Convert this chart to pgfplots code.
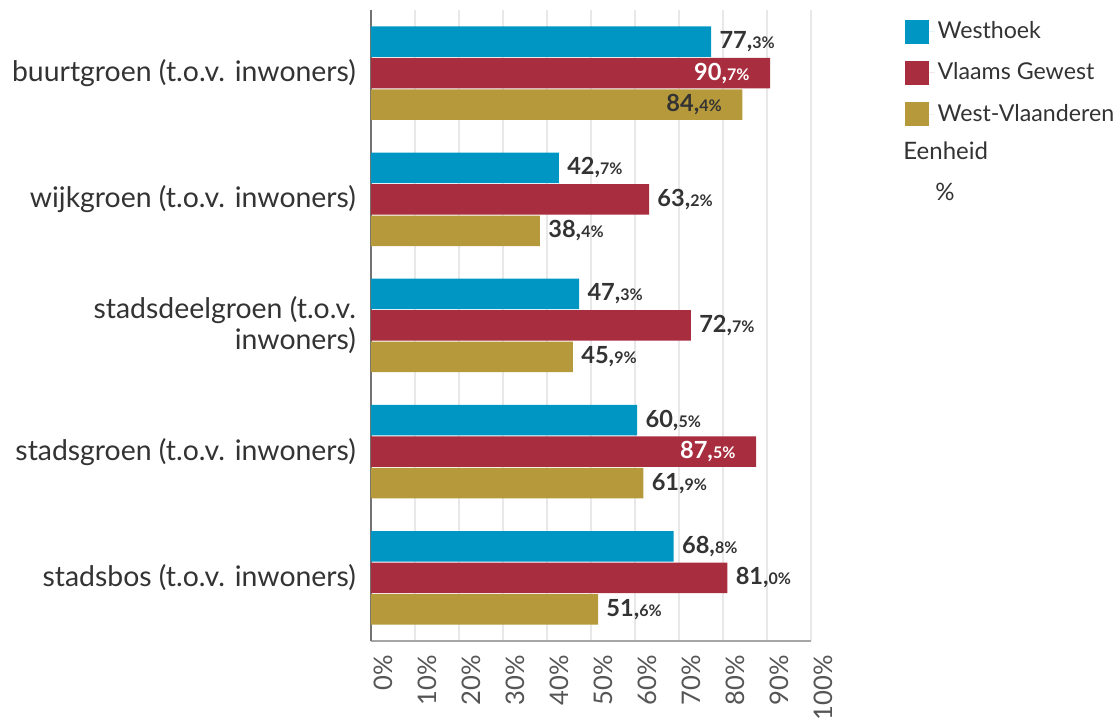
\documentclass[border=0pt]{standalone}
\usepackage{pgfplots}
\usepackage{pgfplotstable}
\pgfplotsset{compat=1.18}
\usepackage{fontspec}
\setmainfont{Lato}

\definecolor{westhoek}{RGB}{0,150,196}
\definecolor{vlaams}{RGB}{168,45,62}
\definecolor{westvl}{RGB}{181,153,59}
\definecolor{txt}{RGB}{51,51,51}
\definecolor{ticktxt}{RGB}{85,85,85}

% cat: 4 = top row (buurtgroen) ... 0 = bottom row (stadsbos)
\pgfplotstableread{
cat val
4 77.3
3 42.7
2 47.3
1 60.5
0 68.8
}\westhoek

\pgfplotstableread{
cat val
4 90.7
3 63.2
2 72.7
1 87.5
0 81.0
}\vlaams

\pgfplotstableread{
cat val
4 84.4
3 38.4
2 45.9
1 61.9
0 51.6
}\westvl

% value label: "77,3%" with small decimals; inside the bar above threshold #1
\newcommand\vallab[2]{%
  \pgfmathtruncatemacro\ip{\xv}%
  \pgfmathtruncatemacro\dd{round(10*(\xv-\ip))}%
  \ifdim\xv pt>#1pt
    \llap{\color{#2}\textbf{\ip,}{\fontsize{8}{9}\selectfont\textbf{\dd\%}}\hspace{11pt}}%
  \else
    \hspace{4pt}\color{txt}\textbf{\ip,}{\fontsize{8}{9}\selectfont\textbf{\dd\%}}%
  \fi}

\pgfplotsset{
  sqlegend/.style={legend image code/.code={%
    \fill[##1] (0pt,-6pt) rectangle (12pt,6pt);
    \path (0pt,0pt) -- (15pt,0pt);}},
}

\begin{document}
\begin{tikzpicture}
\useasboundingbox (-185.5pt,-40.5pt) rectangle (373pt,320.5pt);
\begin{axis}[
  width=220pt, height=315.5pt, scale only axis,
  xbar, bar width=15.25pt,
  xmin=0, xmax=100, ymin=-0.5, ymax=4.5,
  xtick={0,10,...,100},
  xticklabels={0\%,10\%,20\%,30\%,40\%,50\%,60\%,70\%,80\%,90\%,100\%},
  ytick={0,1,2,3,4},
  yticklabels={stadsbos (t.o.v. inwoners),stadsgroen (t.o.v. inwoners),{stadsdeelgroen (t.o.v.\\inwoners)},wijkgroen (t.o.v. inwoners),buurtgroen (t.o.v. inwoners)},
  yticklabel style={font=\fontsize{14.2}{15.5}\selectfont, text=txt, align=right, xshift=-4pt},
  xticklabel style={font=\fontsize{12.8}{15}\selectfont, text=ticktxt, rotate=90, anchor=east, yshift=-6pt, xshift=-3.5pt},
  axis x line*=bottom, axis y line*=left,
  x axis line style={draw=gray!70, line width=0.8pt},
  y axis line style={draw=gray!90!black, line width=0.9pt},
  major tick length=0pt,
  xmajorgrids, grid style={draw=gray!18, line width=1pt},
  visualization depends on={x \as \xv},
  every node near coord/.append style={font=\fontsize{11.8}{13}\selectfont, inner sep=0pt, anchor=west},
  legend style={at={(axis description cs:1.198,0.993)}, anchor=north west, draw=none, fill=none,
    font=\fontsize{11.6}{14}\selectfont, text=txt, row sep=7.5pt,
    nodes={inner sep=1.5pt}},
  legend cell align=left,
  clip=false,
]
\addplot[fill=westhoek, draw=none, bar shift=15.75pt, sqlegend,
  nodes near coords={\vallab{200}{txt}}] table[x=val, y=cat] {\westhoek};
\addlegendentry{Westhoek}
\addplot[fill=vlaams, draw=none, bar shift=0pt, sqlegend,
  nodes near coords={\vallab{85}{white}}] table[x=val, y=cat] {\vlaams};
\addlegendentry{Vlaams Gewest}
\addplot[fill=westvl, draw=none, bar shift=-15.75pt, sqlegend,
  nodes near coords={\vallab{80}{txt}}] table[x=val, y=cat] {\westvl};
\addlegendentry{West-Vlaanderen}
\node[anchor=west, text=txt, font=\fontsize{12}{14}\selectfont, inner sep=0pt] at (axis description cs:1.209,0.7765) {Eenheid};
\node[text=txt, font=\fontsize{12}{14}\selectfont, inner sep=0pt] at (axis description cs:1.3045,0.7116) {\%};
\end{axis}
\end{tikzpicture}
\end{document}
